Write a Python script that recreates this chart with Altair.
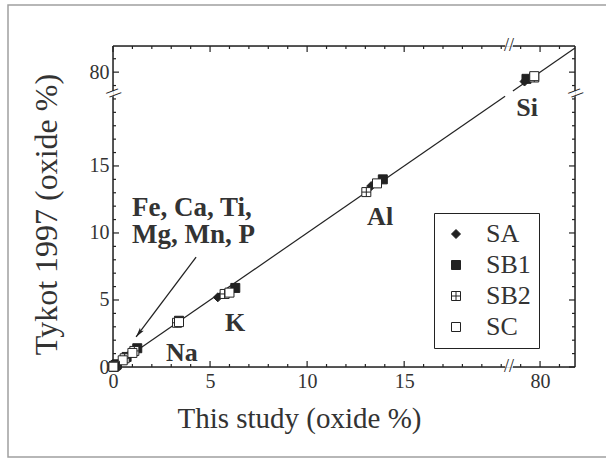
import altair as alt
import pandas as pd

# ---------------- data ----------------
series = ["SA", "SB1", "SB2", "SC"]
elements = ["Si", "Al", "K", "Na", "Fe", "Ca", "Ti", "Mg", "Mn", "P"]

study_SA = [79.2, 13.3, 5.40, 3.35, 1.20, 0.75, 0.12, 0.10, 0.05, 0.03]
tykot_SA = [79.3, 13.5, 5.20, 3.40, 1.30, 0.80, 0.15, 0.10, 0.05, 0.03]
study_SB1 = [79.3, 13.9, 6.30, 3.40, 1.25, 0.70, 0.20, 0.15, 0.06, 0.04]
tykot_SB1 = [79.5, 14.0, 5.90, 3.45, 1.40, 0.75, 0.20, 0.15, 0.06, 0.04]
study_SB2 = [79.7, 13.05, 5.75, 3.30, 1.10, 0.60, 0.15, 0.12, 0.05, 0.03]
tykot_SB2 = [79.6, 13.05, 5.45, 3.30, 1.20, 0.65, 0.15, 0.10, 0.05, 0.03]
study_SC = [79.7, 13.6, 6.00, 3.40, 1.00, 0.50, 0.10, 0.05, 0.05, 0.02]
tykot_SC = [79.7, 13.7, 5.55, 3.35, 1.05, 0.50, 0.10, 0.05, 0.05, 0.02]

major_ticks = [0, 5, 10, 15, 80]
minor_ticks = [1, 2, 3, 4, 6, 7, 8, 9, 11, 12, 13, 14, 16, 17, 18, 19, 20, 79, 81]

# broken axis: lower segment 0..20.2, upper segment 78.6..81.8 (x) / 81.95 (y)
LOW_END = 20.2
HIGH_START = 78.6
X_END = 81.8
Y_END = 81.95
SHIFT = 58.0  # upper segment shifted down so both segments share one scale


def t(v):
    return v if v < 50 else v - SHIFT


BRK = (t(LOW_END) + t(HIGH_START)) / 2

# ---------------- tables ----------------
xs = [study_SA, study_SB1, study_SB2, study_SC]
ys = [tykot_SA, tykot_SB1, tykot_SB2, tykot_SC]
rows = []
for s, xv, yv in zip(series, xs, ys):
    for e, a, b in zip(elements, xv, yv):
        rows.append({"series": s, "element": e, "x": t(a), "y": t(b)})
pts = pd.DataFrame(rows)

W, H = 462, 321
xscale = alt.Scale(domain=[0, t(X_END)], nice=False, zero=False)
yscale = alt.Scale(domain=[0, t(Y_END)], nice=False, zero=False)

FONT = "Liberation Serif, Times New Roman, serif"
TXT = "#333333"
INK = "#222222"

label_expr = "datum.value > 20 ? '80' : datum.label"
xaxis = alt.Axis(values=[t(v) for v in major_ticks], labelExpr=label_expr,
                 ticks=False, domain=False, grid=False, labelFlush=False,
                 labelOverlap=False, labelFont=FONT, labelFontSize=20,
                 labelColor=TXT, labelPadding=4,
                 title="This study (oxide %)", titleFont=FONT, titleFontSize=29,
                 titleFontWeight="normal", titleColor=TXT, titleX=186, titleY=51,
                 titleBaseline="middle", titleAlign="center")
yaxis = alt.Axis(values=[t(v) for v in major_ticks], labelExpr=label_expr,
                 ticks=False, domain=False, grid=False, labelFlush=False,
                 labelOverlap=False, labelFont=FONT, labelFontSize=20,
                 labelColor=TXT, labelPadding=4,
                 title="Tykot 1997 (oxide %)", titleFont=FONT, titleFontSize=32,
                 titleFontWeight="normal", titleColor=TXT, titleX=-67, titleY=168,
                 titleAngle=270, titleBaseline="middle", titleAlign="center")


def X(field="x"):
    return alt.X(f"{field}:Q", scale=xscale, axis=xaxis)


def Y(field="y"):
    return alt.Y(f"{field}:Q", scale=yscale, axis=yaxis)


# outer light border of the figure
border = alt.Chart(pd.DataFrame({"a": [0]})).mark_rect(
    fill=None, stroke="#a0a0a0", strokeWidth=1.5
).encode(x=alt.value(-105), x2=alt.value(W + 60), y=alt.value(-41), y2=alt.value(411))

# frame with gaps at the break
xa, xb, xc, xd = 0, t(LOW_END), t(HIGH_START), t(X_END)
ya, yb, yc, yd = 0, t(LOW_END), t(HIGH_START), t(Y_END)
frame_df = pd.DataFrame([
    {"x": xa, "x2": xb, "y": 0, "y2": 0}, {"x": xc, "x2": xd, "y": 0, "y2": 0},
    {"x": xa, "x2": xb, "y": yd, "y2": yd}, {"x": xc, "x2": xd, "y": yd, "y2": yd},
    {"x": 0, "x2": 0, "y": ya, "y2": yb}, {"x": 0, "x2": 0, "y": yc, "y2": yd},
    {"x": xd, "x2": xd, "y": ya, "y2": yb}, {"x": xd, "x2": xd, "y": yc, "y2": yd},
])
frame = alt.Chart(frame_df).mark_rule(color=INK, strokeWidth=1.5).encode(
    x=X(), x2="x2:Q", y=Y(), y2="y2:Q")

# 1:1 line, broken at the axis break
diag_df = pd.DataFrame([
    {"x": t(0), "x2": t(LOW_END), "y": t(0), "y2": t(LOW_END)},
    {"x": t(HIGH_START), "x2": t(X_END), "y": t(HIGH_START), "y2": t(X_END)},
])
diag = alt.Chart(diag_df).mark_rule(color=INK, strokeWidth=1.2).encode(
    x=X(), x2="x2:Q", y=Y(), y2="y2:Q")

# inward ticks on all four sides
maj = pd.DataFrame({"x": [t(v) for v in major_ticks], "y": [t(v) for v in major_ticks]})
mnr = pd.DataFrame({"x": [t(v) for v in minor_ticks], "y": [t(v) for v in minor_ticks]})
tick_layers = []
for df, L in ((maj, 6), (mnr, 3)):
    base = alt.Chart(df).mark_rule(color=INK, strokeWidth=1.2)
    tick_layers += [
        base.encode(x=X(), y=alt.value(H), y2=alt.value(H - L)),
        base.encode(x=X(), y=alt.value(0), y2=alt.value(L)),
        base.encode(y=Y(), x=alt.value(0), x2=alt.value(L)),
        base.encode(y=Y(), x=alt.value(W), x2=alt.value(W - L)),
    ]

# break marks
brk = pd.DataFrame({"x": [BRK], "y": [BRK]})
bmark_x = alt.Chart(brk).mark_text(text="//", font=FONT, fontSize=18, color=INK)
bmark_y = alt.Chart(brk).mark_text(text="//", font=FONT, fontSize=18, color=INK, angle=50)
breaks = [
    bmark_x.encode(x=X(), y=alt.value(0)),
    bmark_x.encode(x=X(), y=alt.value(H)),
    bmark_y.encode(y=Y(), x=alt.value(0)),
    bmark_y.encode(y=Y(), x=alt.value(W)),
]

# points
cross_sq = "M-1,-1H1V1H-1Z M0,-1V1 M-1,0H1"
points = alt.Chart(pts).mark_point(filled=True, stroke=INK, strokeWidth=1, opacity=1, size=81).encode(
    x=X(), y=Y(),
    shape=alt.Shape("series:N", scale=alt.Scale(domain=series,
                    range=["diamond", "square", cross_sq, "square"])),
    fill=alt.Fill("series:N", scale=alt.Scale(domain=series,
                  range=[INK, INK, "white", "white"]),
                  legend=alt.Legend(orient="none", legendX=321, legendY=167, title=None,
                                    padding=8, symbolOffset=1, labelOffset=17, rowPadding=5,
                                    labelFont=FONT, labelFontSize=26, labelColor=TXT,
                                    strokeColor=INK, symbolSize=81, symbolStrokeColor=INK,
                                    symbolStrokeWidth=1)),
)

# annotations
ann_text = ["Si", "Al", "K", "Na"]
ann_x = [21.33, 13.76, 6.29, 3.55]
ann_y = [19.33, 11.19, 3.28, 1.04]
ann = alt.Chart(pd.DataFrame({"txt": ann_text, "x": ann_x, "y": ann_y})).mark_text(
    font=FONT, fontSize=26, fontWeight="bold", color=TXT
).encode(x=X(), y=Y(), text="txt:N")

group_lines = ["Fe, Ca, Ti,", "Mg, Mn, P"]
group_x = [0.98, 0.98]
group_y = [11.87, 9.85]
grp = alt.Chart(pd.DataFrame({"txt": group_lines, "x": group_x, "y": group_y})).mark_text(
    font=FONT, fontSize=27, fontWeight="bold", color=TXT, align="left"
).encode(x=X(), y=Y(), text="txt:N")

arrow_from = (4.28, 8.2)
arrow_to = (1.19, 2.24)
arrow_df = pd.DataFrame({"x": [arrow_from[0]], "y": [arrow_from[1]],
                         "x2": [arrow_to[0]], "y2": [arrow_to[1]]})
arrow = alt.Chart(arrow_df).mark_rule(color=INK, strokeWidth=1.3).encode(
    x=X(), y=Y(), x2="x2:Q", y2="y2:Q")
head = alt.Chart(pd.DataFrame({"x": [arrow_to[0]], "y": [arrow_to[1]]})).mark_point(
    shape="M0,0L0.6,2.4L0,1.9L-0.6,2.4Z", size=64, filled=True, color=INK, opacity=1, angle=217
).encode(x=X(), y=Y())

chart = alt.layer(
    border, diag, frame, *tick_layers, *breaks, arrow, head, points, ann, grp
).properties(
    width=W, height=H,
    autosize=alt.AutoSizeParams(type="none"),
    padding={"left": 113, "top": 46, "right": 31, "bottom": 91},
).configure_view(stroke=None).configure(
    font=FONT
).configure_axis(
    labelFont=FONT, titleFont=FONT
).configure_legend(
    labelFont=FONT
).configure_text(font=FONT)

chart.save("out.html", embed_options={"renderer": "svg", "actions": False})
